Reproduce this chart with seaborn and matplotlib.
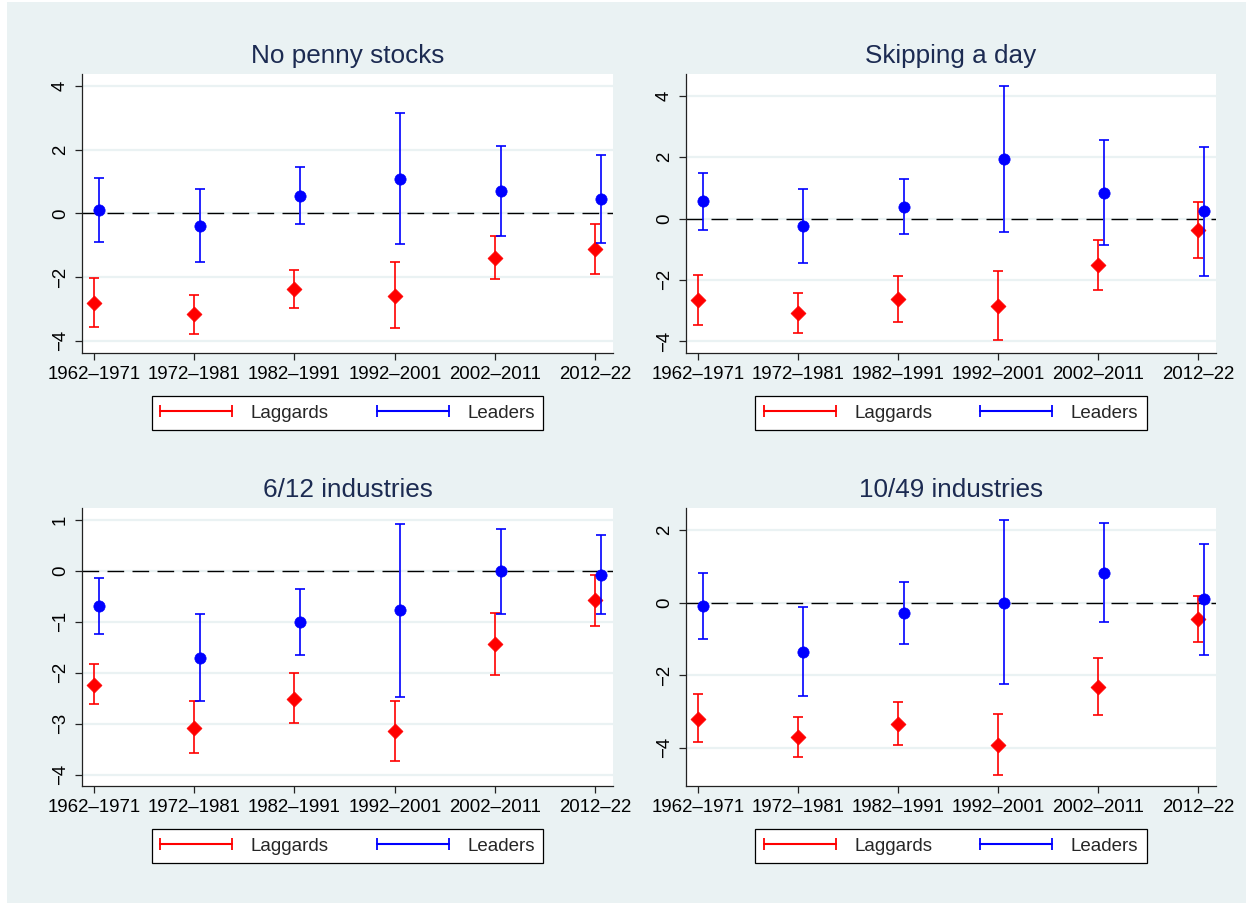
import numpy as np
import matplotlib
matplotlib.use("Agg")
import matplotlib.pyplot as plt
from matplotlib.lines import Line2D
from matplotlib.patches import Rectangle
from matplotlib.legend_handler import HandlerLine2D
import seaborn as sns

# ---------------- data ----------------
periods = ["1962\u20131971", "1972\u20131981", "1982\u20131991", "1992\u20132001", "2002\u20132011", "2012\u201322"]
titles = ["No penny stocks", "Skipping a day", "6/12 industries", "10/49 industries"]

# No penny stocks
penny_lag_est = [-2.80, -3.17, -2.38, -2.58, -1.40, -1.13]
penny_lag_lo = [-3.57, -3.78, -2.96, -3.60, -2.07, -1.91]
penny_lag_hi = [-2.03, -2.55, -1.78, -1.53, -0.72, -0.34]
penny_lead_est = [0.10, -0.39, 0.55, 1.09, 0.71, 0.45]
penny_lead_lo = [-0.90, -1.51, -0.34, -0.97, -0.70, -0.94]
penny_lead_hi = [1.11, 0.76, 1.46, 3.16, 2.12, 1.85]

# Skipping a day
skip_lag_est = [-2.66, -3.07, -2.63, -2.86, -1.53, -0.37]
skip_lag_lo = [-3.46, -3.74, -3.38, -3.98, -2.34, -1.30]
skip_lag_hi = [-1.85, -2.43, -1.86, -1.71, -0.71, 0.54]
skip_lead_est = [0.57, -0.24, 0.38, 1.94, 0.85, 0.25]
skip_lead_lo = [-0.38, -1.45, -0.51, -0.44, -0.85, -1.86]
skip_lead_hi = [1.50, 0.96, 1.30, 4.33, 2.55, 2.34]

# 6/12 industries
ind12_lag_est = [-2.23, -3.08, -2.51, -3.15, -1.44, -0.58]
ind12_lag_lo = [-2.61, -3.58, -2.99, -3.73, -2.05, -1.08]
ind12_lag_hi = [-1.83, -2.56, -2.01, -2.56, -0.83, -0.07]
ind12_lead_est = [-0.69, -1.70, -1.01, -0.77, 0.00, -0.07]
ind12_lead_lo = [-1.24, -2.56, -1.65, -2.48, -0.84, -0.84]
ind12_lead_hi = [-0.14, -0.84, -0.35, 0.93, 0.83, 0.70]

# 10/49 industries
ind49_lag_est = [-3.21, -3.72, -3.34, -3.93, -2.32, -0.46]
ind49_lag_lo = [-3.85, -4.25, -3.94, -4.76, -3.11, -1.10]
ind49_lag_hi = [-2.53, -3.17, -2.73, -3.08, -1.53, 0.18]
ind49_lead_est = [-0.10, -1.35, -0.29, 0.00, 0.83, 0.09]
ind49_lead_lo = [-1.01, -2.58, -1.13, -2.25, -0.54, -1.44]
ind49_lead_hi = [0.83, -0.12, 0.57, 2.28, 2.19, 1.62]

yticks_list = [[-4, -2, 0, 2, 4], [-4, -2, 0, 2, 4], [-4, -3, -2, -1, 0, 1], [-4, -2, 0, 2]]
ylims = [(-4.38, 4.38), (-4.39, 4.72), (-4.22, 1.235), (-5.06, 2.61)]

panels = [
    (penny_lag_est, penny_lag_lo, penny_lag_hi, penny_lead_est, penny_lead_lo, penny_lead_hi),
    (skip_lag_est, skip_lag_lo, skip_lag_hi, skip_lead_est, skip_lead_lo, skip_lead_hi),
    (ind12_lag_est, ind12_lag_lo, ind12_lag_hi, ind12_lead_est, ind12_lead_lo, ind12_lead_hi),
    (ind49_lag_est, ind49_lag_lo, ind49_lag_hi, ind49_lead_est, ind49_lead_lo, ind49_lead_hi),
]

# ---------------- style ----------------
sns.set_style("white")
plt.rcParams["font.family"] = ["Liberation Sans", "DejaVu Sans"]
plt.rcParams["axes.unicode_minus"] = True

BG = "#EAF2F3"
RED = "#FF0000"
BLUE = "#0000FF"
TITLE_C = "#1C2B52"

W, H = 1253, 905
fig = plt.figure(figsize=(W / 100, H / 100), dpi=100, facecolor="white")
fig.patches.append(Rectangle((7 / W, 2 / H), (1246 - 7) / W, (903 - 2) / H,
                             transform=fig.transFigure, facecolor=BG, edgecolor="none", zorder=-10))

boxes = [(82, 613, 74, 353), (686, 1216, 74, 353), (82, 613, 508, 786), (686, 1216, 508, 786)]

x = np.arange(1, len(periods) + 1, dtype=float)
lead_off = 0.055

for i, (box, data) in enumerate(zip(boxes, panels)):
    l, r, t, b = box
    ax = fig.add_axes([l / W, 1 - b / H, (r - l) / W, (b - t) / H])
    ax.set_facecolor("white")
    lag_est, lag_lo, lag_hi, lead_est, lead_lo, lead_hi = [np.array(d) for d in data]

    # grid
    for yv in yticks_list[i]:
        ax.axhline(yv, color=BG, lw=1.6, zorder=0)
    ax.axhline(0, color="black", lw=1.0, dashes=(12, 6), zorder=1)

    # laggards
    ax.errorbar(x, lag_est, yerr=[lag_est - lag_lo, lag_hi - lag_est], fmt="none",
                ecolor=RED, elinewidth=1.2, capsize=3.8, capthick=1.2, zorder=2)
    sns.scatterplot(x=x, y=lag_est, marker="D", color=RED, s=58, edgecolor=RED,
                    linewidth=0.5, ax=ax, zorder=3, legend=False)
    # leaders
    ax.errorbar(x + lead_off, lead_est, yerr=[lead_est - lead_lo, lead_hi - lead_est], fmt="none",
                ecolor=BLUE, elinewidth=1.2, capsize=3.8, capthick=1.2, zorder=4)
    sns.scatterplot(x=x + lead_off, y=lead_est, marker="o", color=BLUE, s=66, edgecolor=BLUE,
                    linewidth=0.5, ax=ax, zorder=5, legend=False)

    ax.set_xlim(0.883, 6.175)
    ax.set_ylim(*ylims[i])
    ax.set_xticks(x)
    ax.set_xticklabels(periods, fontsize=13.4)
    ax.set_yticks(yticks_list[i])
    ax.set_yticklabels([str(v) if v >= 0 else "\u2212" + str(-v) for v in yticks_list[i]],
                       fontsize=13.4, rotation=90, va="center")
    ax.set_xlabel("")
    ax.set_ylabel("")
    for s in ["top", "right"]:
        ax.spines[s].set_visible(False)
    for s in ["left", "bottom"]:
        ax.spines[s].set_color("#222222")
        ax.spines[s].set_linewidth(0.9)
    ax.tick_params(axis="both", which="major", direction="out", length=5, width=0.9,
                   color="#222222", labelcolor="black", pad=4.5, left=True, bottom=True)
    ax.set_title(titles[i], fontsize=18.8, color=TITLE_C, pad=8)

    handles = [Line2D([], [], color=RED, lw=1.5, marker="|", markersize=8, markeredgewidth=1.3),
               Line2D([], [], color=BLUE, lw=1.5, marker="|", markersize=8, markeredgewidth=1.3)]
    cx = (l + r) / 2 / W
    cy = 1 - (b + 60) / H
    leg = fig.legend(handles, ["Laggards", "Leaders"], loc="center", bbox_to_anchor=(cx, cy),
                     ncol=2, numpoints=2, frameon=True, fancybox=False, fontsize=13.5,
                     handlelength=3.84, handletextpad=1.0, columnspacing=2.56,
                     borderpad=0.45, borderaxespad=0, edgecolor="black", framealpha=1.0,
                     handler_map={Line2D: HandlerLine2D(marker_pad=0)})
    leg.get_frame().set_linewidth(0.9)
    leg.get_frame().set_facecolor("white")

fig.savefig("out.png", dpi=100, facecolor="white")
